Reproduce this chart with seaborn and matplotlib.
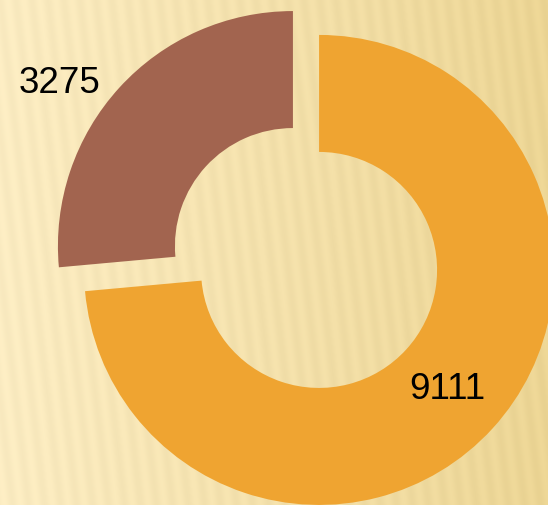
import numpy as np
import matplotlib
matplotlib.use("Agg")
import matplotlib.pyplot as plt
import seaborn as sns

# datos del grafico
valores = [9111, 3275]
etiquetas = ["9111", "3275"]
colores = ["#EFA431", "#A2644F"]
dist_etiqueta = [0.745, 1.21]
giro_etiqueta = [-0.7, 7.5]  # grados

sns.set_style("white")
plt.rcParams["font.family"] = ["Liberation Sans", "DejaVu Sans"]

fig = plt.figure(figsize=(5.48, 5.05), dpi=100)
ax = fig.add_axes([0, 0, 1, 1])
ax.set_xlim(0, 548)
ax.set_ylim(0, 505)
ax.set_aspect("equal")
ax.axis("off")

# fondo con rayas verticales (textura beige)
xx, yy = np.meshgrid(np.arange(548), np.arange(505))
grad = xx / 548.0
rayas = np.sin(2 * np.pi * (xx + 0.12 * yy) / 16.0)
claro = np.array([0.985, 0.925, 0.76])
oscuro = np.array([0.925, 0.835, 0.58])
base = claro[None, None, :] * (1 - grad[..., None]) + oscuro[None, None, :] * grad[..., None]
fondo = base + 0.012 * rayas[..., None]
ax.imshow(np.clip(fondo, 0, 1), extent=(0, 548, 0, 505), origin="lower", zorder=0)

# dona con las dos porciones separadas
R = 235
wedges, _ = ax.pie(valores, colors=colores, startangle=90, counterclock=False,
                   radius=R, center=(306, 247), explode=[17.7, 17.7],
                   wedgeprops=dict(width=117, linewidth=0))
for w in wedges:
    w.set_zorder(2)

ax.set_xlim(0, 548)
ax.set_ylim(0, 505)

# etiquetas de valor
for w, txt, d, g in zip(wedges, etiquetas, dist_etiqueta, giro_etiqueta):
    ang = np.deg2rad((w.theta1 + w.theta2) / 2 + g)
    cx, cy = w.center
    ax.text(cx + d * w.r * np.cos(ang), cy + d * w.r * np.sin(ang), txt,
            ha="center", va="center", fontsize=26.5, color="black", zorder=3)

plt.savefig("out.png", dpi=100)
